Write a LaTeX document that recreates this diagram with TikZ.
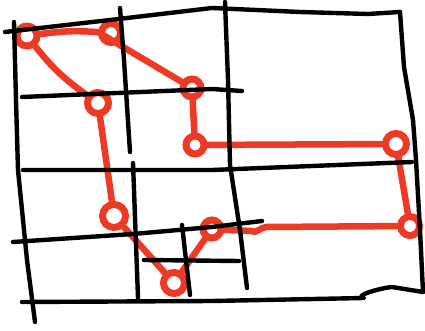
\documentclass[tikz,border=0pt]{standalone}
\definecolor{redpen}{RGB}{238,58,36}
\tikzset{
  pen/.style={line width=4.4pt, line cap=round, line join=round},
  ring/.style={circle, draw=redpen, line width=7pt, inner sep=0pt, minimum size=18pt},
  trail/.style={draw=redpen, line width=6.5pt, line cap=round, line join=round}
}
\begin{document}
\begin{tikzpicture}[x=1pt, y=-1pt]
  \useasboundingbox (0,0) rectangle (425,331);

  %anelli
  \node[ring, minimum size=20pt] (c1) at (27,36) {};
  \node[ring, minimum size=19pt] (c2) at (111,33) {};
  \node[ring] (c3) at (192,88) {};
  \node[ring, minimum size=21pt] (c4) at (98,103) {};
  \node[ring] (c5) at (195,145) {};
  \node[ring, minimum size=21pt] (c6) at (396,144) {};
  \node[ring, minimum size=19pt] (c7) at (410,226) {};
  \node[ring, minimum size=23pt] (c8) at (114,216) {};
  \node[ring, minimum size=21pt] (c9) at (174,283) {};
  \node[ring] (c10) at (212,229) {};
  \coordinate (w1) at (266,227);
  \coordinate (w2) at (251,231);

  %percorso
  \draw[trail] (c1) to[bend left=6] (c2) -- (c3) -- (c5) -- (c6) -- (c7) -- (w1)
    .. controls (259,228) and (257,234) .. (w2) -- (c10) -- (c9) -- (c8) -- (c4)
    to[bend left=8] (c1);

  %griglia
  \draw[pen] (5,32) -- (110,20) -- (212,8) -- (300,12) -- (368,14) -- (400,12);
  \draw[pen] (400,12) -- (404,67) -- (413,120) -- (416,160) -- (420,230) -- (423,292);
  \draw[pen] (22,302) -- (212,301) -- (364,298) to[out=170,in=185] (392,287) -- (423,292);
  \draw[pen] (14,22) -- (16,100) -- (18,170) -- (27,260) -- (35,322);
  \draw[pen] (120,8) -- (124,60) -- (130,152);
  \draw[pen] (225,2) -- (228,80) -- (230,165) -- (240,230) -- (247,288);
  \draw[pen] (22,97) -- (212,89) -- (242,91);
  \draw[pen] (23,170) -- (212,170) -- (412,162);
  \draw[pen] (13,242) -- (133,234) -- (212,227) -- (262,221);
  \draw[pen] (133,163) -- (138,298);
  \draw[pen] (144,260) -- (239,261);
  \draw[pen] (182,225) -- (190,295);
\end{tikzpicture}
\end{document}
